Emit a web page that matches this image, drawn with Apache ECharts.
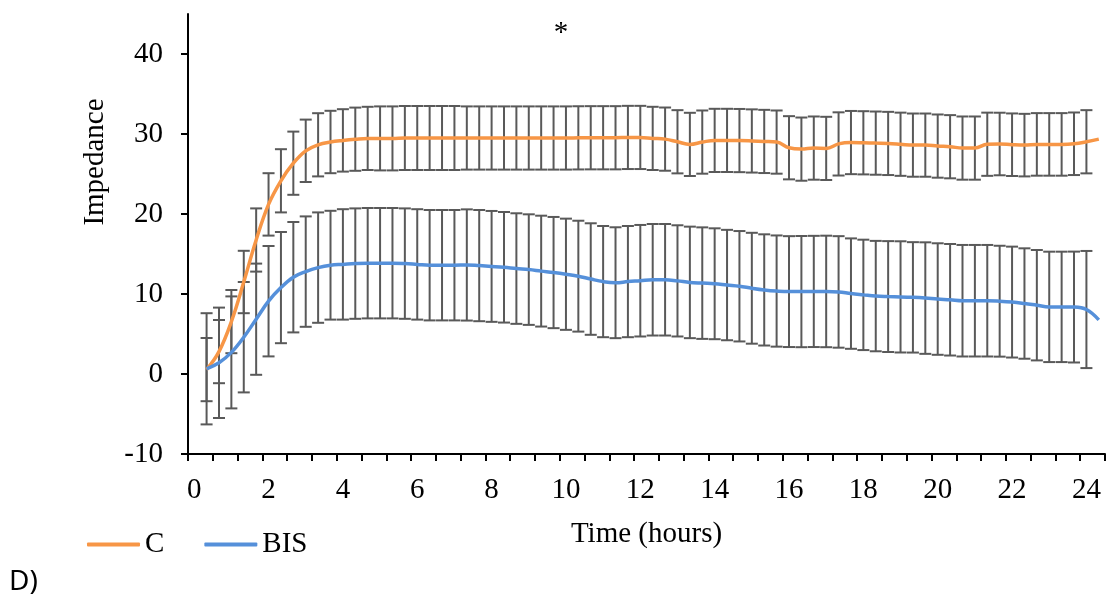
<!DOCTYPE html>
<html><head><meta charset="utf-8">
<script src="https://cdn.jsdelivr.net/npm/echarts@6/dist/echarts.min.js"></script>
<style>html,body{margin:0;padding:0;background:#fff}#c{width:1110px;height:601px}</style>
</head><body><div id="c"></div>
<script>
// Time categories (hours), one every 20 minutes
const hours = ["0","0.33","0.67","1","1.33","1.67","2","2.33","2.67","3","3.33","3.67","4","4.33","4.67","5","5.33","5.67","6","6.33","6.67","7","7.33","7.67","8","8.33","8.67","9","9.33","9.67","10","10.33","10.67","11","11.33","11.67","12","12.33","12.67","13","13.33","13.67","14","14.33","14.67","15","15.33","15.67","16","16.33","16.67","17","17.33","17.67","18","18.33","18.67","19","19.33","19.67","20","20.33","20.67","21","21.33","21.67","22","22.33","22.67","23","23.33","23.67","24","24.33"];

// Series C (mean impedance)
const cMean = [null,0.55,2.8,6.55,11.5,16.75,21.2,24.15,26.35,27.9,28.65,29.0,29.2,29.35,29.45,29.45,29.45,29.5,29.5,29.5,29.5,29.5,29.5,29.5,29.5,29.5,29.5,29.5,29.5,29.5,29.5,29.52,29.53,29.53,29.53,29.57,29.57,29.45,29.36,29.03,28.7,28.99,29.2,29.2,29.18,29.13,29.07,28.99,28.28,28.11,28.24,28.2,28.76,28.93,28.9,28.86,28.82,28.72,28.61,28.61,28.49,28.41,28.24,28.24,28.72,28.75,28.66,28.61,28.7,28.7,28.7,28.78,29.03,29.36];
// Series C error (SD)
const cSD = [null,3.95,3.95,3.95,3.9,3.95,3.9,3.95,3.95,3.9,3.95,3.9,3.9,3.95,3.95,4.0,4.0,4.0,4.0,4.0,4.0,4.0,3.95,3.95,3.95,3.95,3.95,3.95,3.95,3.95,3.95,3.95,3.95,3.95,3.95,3.95,3.95,3.95,3.95,3.95,3.95,3.95,3.95,3.95,3.95,3.95,3.95,3.95,3.95,3.95,3.95,3.95,3.95,3.95,3.95,3.95,3.95,3.95,3.95,3.95,3.95,3.95,3.95,3.95,3.95,3.91,3.91,3.91,3.91,3.91,3.91,3.91,3.95,null];

// Series BIS (mean impedance)
const bisMean = [null,0.65,1.4,2.7,4.6,6.85,9.1,10.8,12.1,12.8,13.3,13.6,13.7,13.8,13.85,13.85,13.85,13.8,13.7,13.6,13.6,13.6,13.63,13.55,13.45,13.34,13.18,13.05,12.86,12.68,12.47,12.23,11.87,11.55,11.41,11.55,11.66,11.78,11.78,11.64,11.45,11.36,11.28,11.12,10.97,10.72,10.51,10.37,10.3,10.3,10.32,10.32,10.26,10.05,9.89,9.74,9.68,9.64,9.58,9.49,9.37,9.28,9.16,9.16,9.16,9.1,8.99,8.81,8.6,8.39,8.39,8.37,8.06,6.77];
// Series BIS error (SD)
const bisSD = [null,6.95,6.9,7.0,6.9,6.95,6.9,6.95,6.9,6.9,6.9,6.8,6.9,6.9,6.9,6.9,6.9,6.9,6.9,6.9,6.9,6.9,6.95,6.95,6.93,6.91,6.91,6.91,6.93,6.95,6.95,6.93,6.97,6.95,6.93,6.95,6.97,6.97,6.97,6.95,6.97,6.97,6.93,6.9,6.9,6.93,6.95,6.95,6.93,6.95,6.95,6.97,6.97,6.9,6.9,6.9,6.93,6.95,6.9,6.97,6.97,6.97,6.97,6.97,6.97,6.93,6.93,6.9,6.9,6.9,6.9,6.93,7.32,null];

const yTicks = [-10,0,10,20,30,40];

const FONT = "'Liberation Serif','Times New Roman',serif";
const FS = 29;
const ORANGE = '#F79646';
const BLUE = '#5590DA';
const ERR = '#595959';

function errData(mean, sd){
  const out = [];
  for (let i = 0; i < mean.length; i++) {
    if (mean[i] != null && sd[i] != null) out.push([i, mean[i] - sd[i], mean[i] + sd[i]]);
  }
  return out;
}
function errRender(params, api){
  const x = api.value(0);
  const p1 = api.coord([x, api.value(2)]);
  const p2 = api.coord([x, api.value(1)]);
  const hw = 6;
  const style = {stroke: ERR, lineWidth: 2};
  return {type: 'group', children: [
    {type: 'line', shape: {x1: p1[0], y1: p1[1], x2: p2[0], y2: p2[1]}, style: style},
    {type: 'line', shape: {x1: p1[0]-hw, y1: p1[1], x2: p1[0]+hw, y2: p1[1]}, style: style},
    {type: 'line', shape: {x1: p2[0]-hw, y1: p2[1], x2: p2[0]+hw, y2: p2[1]}, style: style}
  ]};
}

const chart = echarts.init(document.getElementById('c'), null, {renderer: 'canvas'});
chart.setOption({
  animation: false,
  backgroundColor: '#fff',
  grid: {left: 188, top: 14, width: 917, height: 440, containLabel: false},
  xAxis: {
    type: 'category', data: hours, boundaryGap: true,
    name: 'Time (hours)', nameLocation: 'middle', nameGap: 66,
    nameTextStyle: {fontFamily: FONT, fontSize: FS, color: '#000'},
    axisLine: {onZero: false, lineStyle: {color: '#000', width: 2}},
    axisTick: {show: true, interval: 1, length: 7, inside: false, lineStyle: {color: '#000', width: 2}},
    axisLabel: {interval: 5, margin: 22, fontFamily: FONT, fontSize: FS, color: '#000'},
    splitLine: {show: false}
  },
  yAxis: {
    type: 'value', min: -10, max: 45, interval: 10,
    axisLine: {show: true, lineStyle: {color: '#000', width: 2}},
    axisTick: {show: true, length: 7, customValues: yTicks, lineStyle: {color: '#000', width: 2}},
    axisLabel: {customValues: yTicks, margin: 25, fontFamily: FONT, fontSize: FS, color: '#000'},
    splitLine: {show: false}
  },
  legend: {
    data: ['C', 'BIS'], left: 87, top: 530, padding: 0, icon: 'roundRect',
    itemWidth: 53, itemHeight: 4, itemGap: 40,
    textStyle: {fontFamily: FONT, fontSize: FS, color: '#000'}
  },
  graphic: [
    {type: 'text', x: 95, y: 162, rotation: Math.PI/2,
      style: {text: 'Impedance', font: FS + "px 'Liberation Serif','Times New Roman',serif", fill: '#000', textAlign: 'center', textVerticalAlign: 'middle'}},
    {type: 'text', x: 561, y: 33, style: {text: '*', font: FS + "px 'Liberation Serif','Times New Roman',serif", fill: '#000', textAlign: 'center', textVerticalAlign: 'middle'}},
    {type: 'text', x: 9, y: 582, style: {text: 'D)', font: "28px 'Noto Sans',sans-serif", fill: '#000', textAlign: 'left', textVerticalAlign: 'middle'}}
  ],
  series: [
    {name: 'C-err', type: 'custom', renderItem: errRender, data: errData(cMean, cSD), encode: {x: 0, y: [1, 2]}, z: 1, silent: true},
    {name: 'BIS-err', type: 'custom', renderItem: errRender, data: errData(bisMean, bisSD), encode: {x: 0, y: [1, 2]}, z: 1, silent: true},
    {name: 'C', type: 'line', data: cMean, smooth: 0.4, symbol: 'none', connectNulls: false,
      lineStyle: {color: ORANGE, width: 3.5}, itemStyle: {color: ORANGE}, z: 3},
    {name: 'BIS', type: 'line', data: bisMean, smooth: 0.4, symbol: 'none', connectNulls: false,
      lineStyle: {color: BLUE, width: 3.5}, itemStyle: {color: BLUE}, z: 3}
  ]
});
</script>
</body></html>
